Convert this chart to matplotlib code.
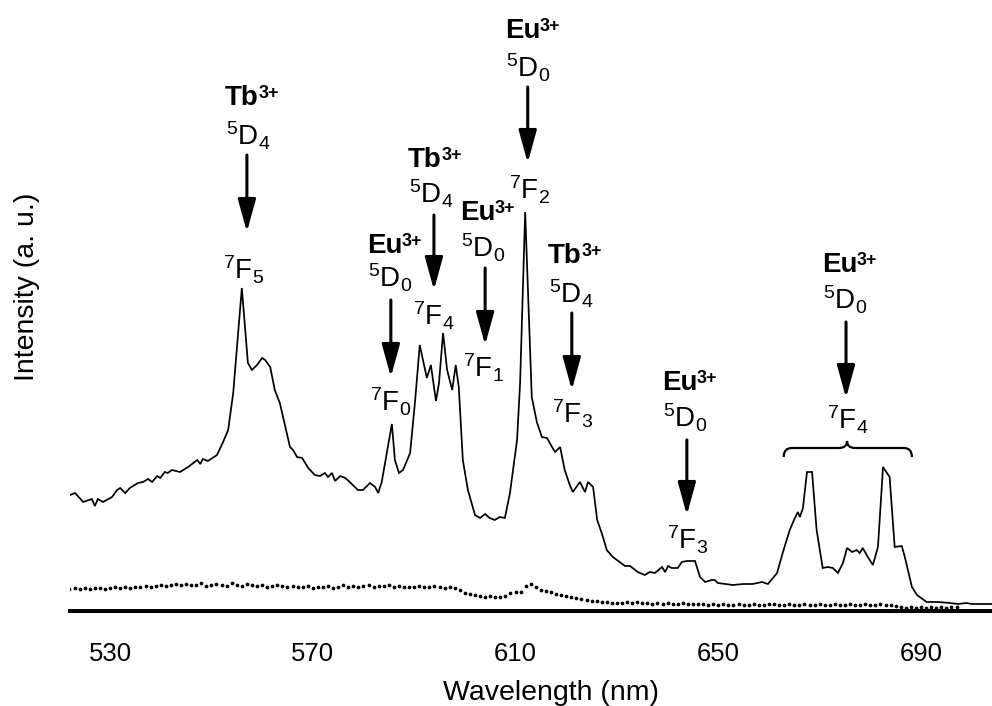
import matplotlib
matplotlib.use("Agg")
import matplotlib.pyplot as plt
from matplotlib.patches import ArrowStyle, PathPatch
from matplotlib.path import Path
import numpy as np

plt.rcParams['font.family'] = ['Liberation Sans', 'DejaVu Sans']
plt.rcParams['mathtext.fontset'] = 'custom'
plt.rcParams['mathtext.rm'] = 'Liberation Sans'
plt.rcParams['mathtext.bf'] = 'Liberation Sans:bold'
plt.rcParams['mathtext.it'] = 'Liberation Sans:italic'
plt.rcParams['mathtext.sf'] = 'Liberation Sans'

# ---------------- data ----------------
main_wl = [
    522.1, 523.1, 524.7, 526.4, 527.0, 527.6, 528.6, 530.4, 531.4, 532.0,
    533.0, 533.9, 535.5, 536.5, 537.5, 538.3, 539.3, 539.9, 540.8, 541.4,
    542.2, 543.8, 545.4, 547.2, 547.8, 548.3, 549.3, 551.1, 552.3, 553.3,
    554.3, 556.0, 557.2, 558.0, 559.0, 560.0, 560.6, 561.6, 562.5, 563.5,
    565.5, 566.1, 566.9, 567.9, 569.1, 570.4, 571.4, 572.4, 573.0, 573.8,
    574.4, 575.4, 576.4, 577.3, 578.9, 579.9, 581.3, 582.3, 582.9, 583.6,
    585.6, 586.2, 587.0, 587.8, 589.2, 590.2, 591.1, 592.5, 593.3, 594.3,
    594.9, 595.7, 596.5, 597.5, 598.2, 598.8, 599.6, 600.6, 602.0, 603.0,
    604.0, 604.9, 605.9, 606.9, 607.9, 608.9, 610.3, 610.9, 611.9, 613.2,
    614.2, 615.2, 616.2, 617.2, 617.8, 618.8, 619.7, 620.7, 621.3, 622.7,
    623.7, 624.3, 625.3, 626.1, 627.0, 628.0, 629.2, 631.6, 632.6, 634.1,
    635.5, 636.5, 637.5, 638.9, 639.5, 640.1, 640.8, 642.0, 642.8, 643.8,
    645.4, 646.4, 647.4, 648.7, 649.3, 649.9, 652.9, 654.9, 656.8, 658.6,
    659.8, 661.6, 662.7, 664.1, 665.1, 665.7, 666.1, 666.7, 667.5, 668.5,
    669.4, 670.6, 671.6, 672.6, 673.6, 674.6, 675.4, 676.4, 677.3, 677.9,
    678.5, 679.5, 680.5, 681.5, 682.5, 683.8, 684.8, 686.2, 686.8, 688.2,
    689.2, 691.1, 693.3, 695.7, 697.3, 699.0, 700.0, 704.0,
]
main_int = [
    116, 118, 109, 112, 105, 112, 109, 114, 121, 123,
    118, 123, 128, 129, 132, 129, 135, 133, 139, 138,
    141, 139, 144, 151, 147, 152, 150, 156, 169, 181,
    218, 323, 248, 241, 246, 253, 251, 244, 221, 208,
    164, 161, 154, 153, 143, 136, 135, 138, 134, 138,
    130, 135, 133, 129, 121, 121, 128, 124, 118, 129,
    187, 151, 138, 141, 158, 211, 266, 233, 246, 210,
    228, 278, 241, 221, 246, 224, 151, 121, 96, 93,
    97, 93, 91, 94, 93, 118, 171, 228, 399, 214,
    189, 174, 173, 164, 159, 164, 141, 126, 119, 129,
    119, 129, 124, 91, 78, 61, 54, 45, 45, 39,
    36, 39, 38, 44, 39, 45, 43, 43, 49, 50,
    50, 34, 29, 31, 31, 28, 26, 27, 27, 29,
    27, 38, 58, 81, 93, 99, 94, 103, 139, 139,
    81, 43, 44, 43, 38, 48, 63, 59, 61, 58,
    63, 54, 46, 64, 144, 134, 64, 65, 54, 24,
    16, 9, 9, 8, 7, 8, 7, 7,
]

# reference (dotted) spectrum, one point per nm from 522 to 697 nm
ref_start_wl = 522
ref_int = [
    22, 23, 22, 23, 22, 23, 23, 22, 23, 24,   # 522-531
    23, 24, 23, 24, 24, 25, 24, 25, 26, 25,   # 532-541
    26, 27, 26, 27, 26, 26, 28, 25, 26, 27,   # 542-551
    26, 25, 28, 26, 25, 27, 26, 25, 26, 24,   # 552-561
    25, 26, 25, 24, 25, 24, 24, 25, 23, 24,   # 562-571
    24, 25, 23, 24, 26, 24, 25, 24, 25, 26,   # 572-581
    24, 25, 25, 26, 24, 25, 24, 24, 24, 25,   # 582-591
    24, 24, 25, 24, 23, 24, 23, 21, 18, 17,   # 592-601
    16, 15, 14, 15, 14, 14, 15, 18, 19, 19,   # 602-611
    25, 27, 24, 21, 20, 19, 17, 16, 15, 14,   # 612-621
    13, 12, 11, 10, 10, 9, 9, 8, 8, 8,        # 622-631
    9, 8, 9, 8, 8, 7, 8, 7, 8, 7,             # 632-641
    7, 8, 7, 7, 7, 7, 6, 7, 6, 7,             # 642-651
    6, 6, 7, 6, 6, 7, 6, 6, 7, 7,             # 652-661
    6, 6, 7, 6, 6, 7, 6, 6, 7, 6,             # 662-671
    6, 7, 6, 6, 7, 6, 6, 7, 6, 6,             # 672-681
    7, 6, 6, 5, 4, 3, 4, 3, 4, 3,             # 682-691
    4, 3, 4, 3, 4, 4,                         # 692-697
]
ref_wl = [ref_start_wl + i for i in range(len(ref_int))]

xticks = [530, 570, 610, 650, 690]

# annotations: (ion, upper term, upper J, lower term, lower J, text-left x,
#               ion baseline, upper baseline, arrow x, arrow start, arrow end,
#               lower-left x, lower baseline)
annots = [
    ("Tb", "D", "4", "F", "5", 552.7, 506, 466, 557.0, 456, 379, 552.3, 332),
    ("Eu", "D", "0", "F", "0", 580.7, 358, 323, 585.4, 311, 234, 581.3, 199),
    ("Tb", "D", "4", "F", "4", 588.8, 444, 408, 593.9, 396, 321, 589.8, 286),
    ("Eu", "D", "0", "F", "1", 599.0, 391, 353, 604.0, 343, 266, 599.6, 233),
    ("Eu", "D", "0", "F", "2", 607.9, 573, 534, 612.4, 524, 448, 608.7, 411),
    ("Tb", "D", "4", "F", "3", 616.4, 348, 308, 621.1, 298, 221, 617.2, 188),
    ("Eu", "D", "0", "F", "3", 638.9, 221, 183, 643.8, 171, 96, 639.9, 61),
    ("Eu", "D", "0", "F", "4", 670.4, 339, 301, 675.2, 289, 213, 671.4, 181),
]

# ---------------- figure ----------------
W, H = 992, 706
fig = plt.figure(figsize=(W / 100, H / 100), dpi=100)
ax = fig.add_axes([70 / W, (H - 611) / H, (W - 70) / W, 611 / H])
ax.set_xlim(522.1, 704.0)
ax.set_ylim(0, 611)

ax.plot(main_wl, main_int, color='black', lw=1.25, solid_joinstyle='miter')
ax.plot(ref_wl, ref_int, linestyle='none', marker='o', ms=2.7, color='black',
        markeredgewidth=0)

for s in ['top', 'right', 'left']:
    ax.spines[s].set_visible(False)
ax.spines['bottom'].set_linewidth(2.9)
ax.set_yticks([])
ax.set_xticks(xticks)
ax.set_xticklabels([str(t) for t in xticks])
ax.tick_params(axis='x', length=0, pad=22, labelsize=18.5)

fig.text(551 / W, (H - 700) / H, "Wavelength (nm)", ha='center', va='baseline',
         fontsize=20.5)
fig.text(27.5 / W, (H - 286.5) / H, "Intensity (a. u.)", ha='center', va='center',
         rotation=90, fontsize=20.5)

fs = 20
astyle = ArrowStyle('-|>', head_length=0.8, head_width=0.22)
for ion, up, upn, lo, lon, tx, yb_ion, yb_up, axx, ay0, ay1, lx, yb_lo in annots:
    t = ax.text(tx, yb_ion, ion, ha='left', va='baseline', fontsize=fs,
                fontweight='bold')
    # superscript "3+" placed right after the ion symbol
    ax.annotate('3+', xy=(1, 0), xycoords=t, xytext=(-0.3, 9.2),
                textcoords='offset points', ha='left', va='baseline',
                fontsize=13, fontweight='bold',
                annotation_clip=False)
    ax.text(tx + 0.2, yb_up, r'$^{5}\mathrm{%s}_{%s}$' % (up, upn), ha='left',
            va='baseline', fontsize=fs)
    ax.annotate('', xy=(axx, ay1), xytext=(axx, ay0),
                arrowprops=dict(arrowstyle=astyle, mutation_scale=25, lw=2.2,
                                color='black', shrinkA=0, shrinkB=0))
    ax.text(lx, yb_lo, r'$^{7}\mathrm{%s}_{%s}$' % (lo, lon), ha='left',
            va='baseline', fontsize=fs)

# curly brace over the 5D0 -> 7F4 band
bx0, bx1, bxc = 662.9, 688.2, 675.4
by_end, by_mid, by_tip = 154, 163, 170
verts = [
    (bx0, by_end), (bx0, by_mid), (bx0 + 1.6, by_mid),
    (bxc - 1.6, by_mid), (bxc, by_mid), (bxc, by_tip),
    (bxc, by_mid), (bxc + 1.6, by_mid),
    (bx1 - 1.6, by_mid), (bx1, by_mid), (bx1, by_end),
]
codes = [Path.MOVETO, Path.CURVE3, Path.CURVE3,
         Path.LINETO, Path.CURVE3, Path.CURVE3,
         Path.CURVE3, Path.CURVE3,
         Path.LINETO, Path.CURVE3, Path.CURVE3]
ax.add_patch(PathPatch(Path(verts, codes), fill=False, lw=1.6, color='black'))

fig.savefig("out.png", dpi=100)
